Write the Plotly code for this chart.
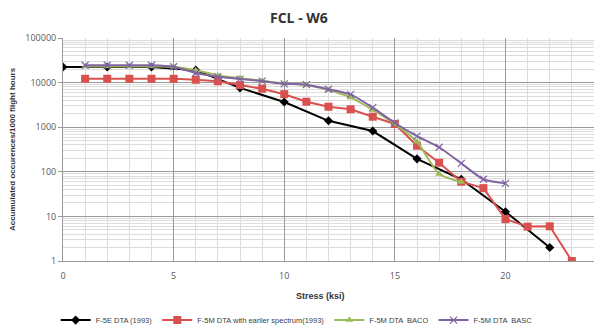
import plotly.graph_objects as go

# Data
black_x = [0, 2, 4, 6, 8, 10, 12, 14, 16, 18, 20, 22]
black_y = [22400, 22400, 22400, 19000, 7600, 3670, 1390, 820, 195, 68, 12.7, 2.0]

red_x = list(range(1, 24))
red_y = [12200, 12200, 12200, 12200, 12200, 11600, 10700, 8800, 7300, 5500,
         3730, 2880, 2520, 1720, 1180, 385, 160, 60, 43, 8.7, 5.9, 6.0, 1.0]

green_x = list(range(1, 19))
green_y = [23000, 23000, 23000, 23000, 22700, 19000, 14500, 12600, 11000, 9600,
           8800, 6800, 4650, 2430, 1180, 473, 89, 59]

purple_x = list(range(1, 21))
purple_y = [24500, 24500, 24500, 24500, 22700, 16400, 13500, 12000, 10800, 9400,
            9000, 7100, 5460, 2750, 1240, 630, 355, 155, 68, 55]

names = ["F-5E DTA (1993)", "F-5M DTA with earlier spectrum(1993)",
         "F-5M DTA  BACO", "F-5M DTA  BASC"]

fig = go.Figure()
fig.add_trace(go.Scatter(x=black_x, y=black_y, name=names[0], mode="lines+markers",
                         line=dict(color="#000000", width=2),
                         marker=dict(symbol="diamond", size=7, color="#000000")))
fig.add_trace(go.Scatter(x=red_x, y=red_y, name=names[1], mode="lines+markers",
                         line=dict(color="#D9514E", width=2),
                         marker=dict(symbol="square", size=8, color="#D9514E")))
fig.add_trace(go.Scatter(x=green_x, y=green_y, name=names[2], mode="lines+markers",
                         line=dict(color="#9BBB59", width=2, shape="spline", smoothing=0.6),
                         marker=dict(symbol="triangle-up", size=7, color="#9BBB59")))
fig.add_trace(go.Scatter(x=purple_x, y=purple_y, name=names[3], mode="lines+markers",
                         line=dict(color="#8064A2", width=2, shape="spline", smoothing=0.6),
                         marker=dict(symbol="x-thin", size=7, line=dict(color="#8064A2", width=1.2))))

fig.update_layout(
    width=595, height=325,
    margin=dict(l=63, r=1, t=38, b=64, autoexpand=False),
    paper_bgcolor="white", plot_bgcolor="white",
    font=dict(family="Liberation Sans, sans-serif", size=9, color="#595959"),
    showlegend=True,
    legend=dict(orientation="h", x=0.44, xanchor="center", y=-0.265, yanchor="middle",
                font=dict(size=7.5, color="#404040"), itemwidth=30,
                bgcolor="rgba(0,0,0,0)"),
    annotations=[
        dict(text="<b>FCL - W6</b>", x=0.445, xref="paper", y=1.09, yref="paper",
             showarrow=False, yanchor="middle",
             font=dict(size=14, color="#333333", family="Open Sans, sans-serif")),
        dict(text="<b>Stress (ksi)</b>", xref="paper", yref="paper", x=0.485, y=-0.157,
             showarrow=False, yanchor="middle", font=dict(size=9, color="#333333")),
        dict(text="<b>Accumulated occurences/1000 flight hours</b>", xref="paper", yref="paper",
             x=-0.095, y=0.5, textangle=-90, showarrow=False, xanchor="center",
             font=dict(size=8, color="#333333")),
    ],
)

fig.update_xaxes(range=[0, 24], tickmode="array", tickvals=[0, 5, 10, 15, 20],
                 automargin=False, ticklabelstandoff=6,
                 showgrid=True, gridcolor="#9a9a9a", gridwidth=1,
                 minor=dict(dtick=1, showgrid=True, gridcolor="#dcdcdc"),
                 showline=True, linecolor="#9a9a9a", zeroline=False,
                 ticks="", tickfont=dict(size=9, color="#595959",
                                         family="Open Sans, sans-serif"))
fig.update_yaxes(type="log", range=[0, 5], dtick=1, tickformat="d",
                 automargin=False,
                 showgrid=True, gridcolor="#9a9a9a", gridwidth=1,
                 minor=dict(dtick="D1", showgrid=True, gridcolor="#dcdcdc"),
                 showline=True, linecolor="#9a9a9a", zeroline=False,
                 ticks="outside", ticklen=4, tickcolor="#9a9a9a",
                 tickfont=dict(size=9, color="#595959",
                               family="Open Sans, sans-serif"))

fig.write_html("out.html", config={"displayModeBar": False},
               post_script="document.body.style.margin='0';document.body.style.overflow='hidden';")
